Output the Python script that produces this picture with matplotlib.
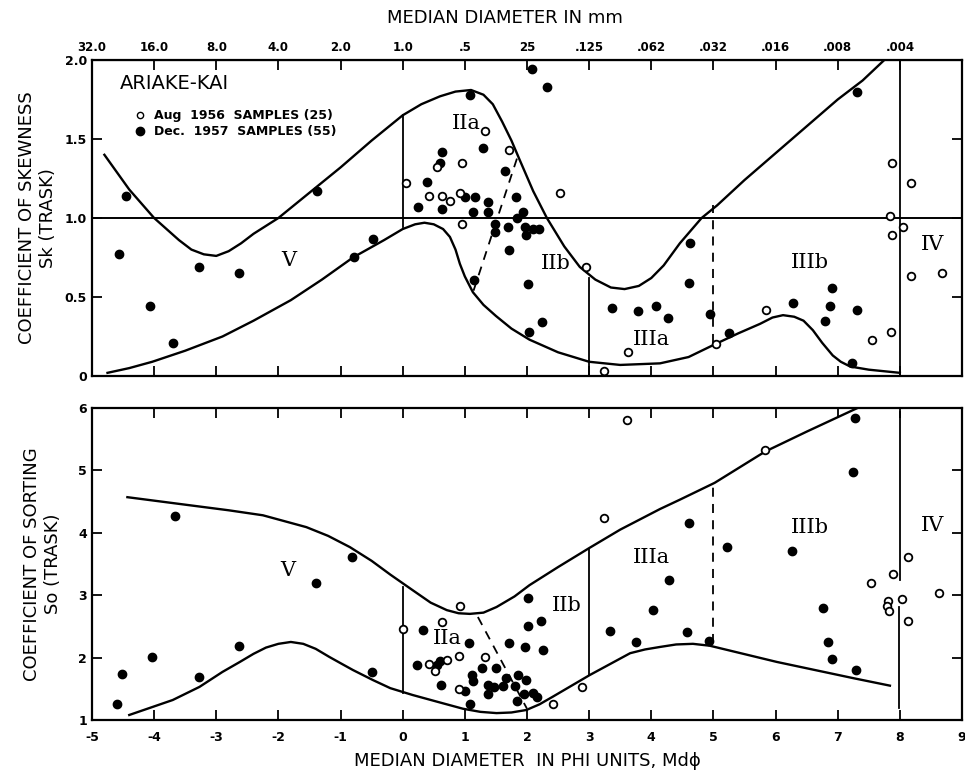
import matplotlib
matplotlib.use('Agg')
import matplotlib.pyplot as plt
from matplotlib.lines import Line2D

# ---- skewness panel (Sk) ----
sk_aug_phi = [1.32, 1.71, 0.95, 0.55, 0.05, 2.53, 0.43, 0.64, 0.76, 0.93, 0.95, 2.95, 3.62, 3.24,
              7.87, 8.18, 7.84, 8.05, 7.87, 8.18, 8.68, 5.85, 7.55, 7.86, 5.04]
sk_aug_val = [1.55, 1.43, 1.35, 1.32, 1.22, 1.16, 1.14, 1.14, 1.11, 1.16, 0.96, 0.69, 0.15, 0.03,
              1.35, 1.22, 1.01, 0.94, 0.89, 0.63, 0.65, 0.42, 0.23, 0.28, 0.20]
sk_dec_phi = [-4.46, -4.56, -4.06, -3.69, -3.28, -2.64, -1.38, -0.79, -0.47,
              2.08, 2.32, 1.08, 1.29, 0.64, 0.60, 1.64, 0.39, 1.82, 1.01, 1.16, 1.38, 0.24, 0.64,
              1.37, 1.13, 1.93, 1.84, 1.48, 1.69, 1.96, 2.09, 2.19, 1.48, 1.99, 1.71, 1.14, 2.01,
              2.24, 2.04, 3.37, 3.78, 4.07, 4.27,
              7.31, 4.62, 4.61, 4.94, 5.25, 6.28, 6.91, 6.88, 7.31, 6.80, 7.23]
sk_dec_val = [1.14, 0.77, 0.44, 0.21, 0.69, 0.65, 1.17, 0.75, 0.87,
              1.94, 1.83, 1.78, 1.44, 1.42, 1.35, 1.30, 1.23, 1.13, 1.13, 1.13, 1.10, 1.07, 1.06,
              1.04, 1.04, 1.04, 1.00, 0.96, 0.94, 0.94, 0.93, 0.93, 0.91, 0.89, 0.80, 0.61, 0.58,
              0.34, 0.28, 0.43, 0.41, 0.44, 0.37,
              1.80, 0.84, 0.59, 0.39, 0.27, 0.46, 0.56, 0.44, 0.42, 0.35, 0.08]

sk_upper_phi = [-4.8, -4.4, -4.0, -3.6, -3.4, -3.2, -3.0, -2.8, -2.6, -2.4, -2.0, -1.5, -1.0, -0.5,
                0.0, 0.3, 0.6, 0.85, 1.1, 1.3, 1.45, 1.6, 1.75, 1.88, 2.1, 2.32, 2.6, 2.85, 3.1,
                3.35, 3.57, 3.8, 4.0, 4.2, 4.46, 4.81, 5.06, 5.5, 6.0, 6.5, 7.0, 7.4, 7.75]
sk_upper_val = [1.40, 1.18, 1.00, 0.86, 0.80, 0.77, 0.76, 0.79, 0.84, 0.90, 1.00, 1.16, 1.32, 1.49,
                1.65, 1.72, 1.77, 1.80, 1.81, 1.78, 1.72, 1.61, 1.49, 1.37, 1.17, 1.00, 0.82, 0.69, 0.61,
                0.56, 0.55, 0.57, 0.62, 0.70, 0.84, 1.00, 1.08, 1.24, 1.41, 1.58, 1.75, 1.87, 2.00]
sk_lower_phi = [-4.75, -4.4, -4.03, -3.5, -2.9, -2.4, -1.8, -1.3, -0.8, -0.3, 0.0, 0.2, 0.35, 0.5,
                0.65, 0.76, 0.85, 0.92, 1.0, 1.13, 1.3, 1.5, 1.75, 2.04, 2.5, 3.0, 3.5, 4.14, 4.6,
                5.02, 5.4, 5.75, 5.95, 6.12, 6.3, 6.45, 6.6, 6.75, 6.92, 7.05, 7.2, 7.5, 8.0]
sk_lower_val = [0.02, 0.05, 0.09, 0.16, 0.25, 0.35, 0.48, 0.61, 0.75, 0.86, 0.93, 0.96, 0.97, 0.96,
                0.93, 0.88, 0.80, 0.71, 0.63, 0.53, 0.45, 0.38, 0.30, 0.23, 0.15, 0.09, 0.07, 0.08, 0.12,
                0.20, 0.27, 0.33, 0.37, 0.385, 0.375, 0.35, 0.29, 0.21, 0.13, 0.09, 0.06, 0.04, 0.02]

# ---- sorting panel (So) ----
so_aug_phi = [3.61, 3.24, 0.92, 0.63, 0.0, 0.90, 1.32, 0.42, 0.72, 0.52, 0.90, 2.88, 2.42,
              5.83, 8.13, 7.89, 7.54, 8.04, 8.63, 7.81, 7.79, 7.83, 8.13]
so_aug_val = [5.81, 4.24, 2.83, 2.57, 2.46, 2.03, 2.01, 1.90, 1.96, 1.79, 1.50, 1.53, 1.26,
              5.33, 3.61, 3.34, 3.20, 2.94, 3.04, 2.91, 2.83, 2.75, 2.59]
so_dec_phi = [-3.67, -0.81, -1.40, -2.64, -4.04, -4.51, -3.28, -0.50, -4.59,
              2.01, 2.22, 2.01, 0.32, 1.06, 1.71, 1.96, 2.25, 0.23, 0.60, 0.56, 1.27, 1.50, 1.11,
              1.13, 1.67, 1.85, 1.98, 1.37, 1.47, 1.61, 1.80, 0.61, 1.01, 1.37, 1.95, 2.09, 2.16,
              1.84, 1.08, 3.33, 3.75, 4.03, 4.28,
              7.28, 7.25, 4.61, 5.22, 6.26, 6.76, 4.57, 4.93, 6.84, 6.91, 7.29]
so_dec_val = [4.27, 3.61, 3.19, 2.19, 2.01, 1.74, 1.69, 1.77, 1.26,
              2.95, 2.59, 2.51, 2.44, 2.23, 2.23, 2.17, 2.12, 1.88, 1.95, 1.88, 1.83, 1.83, 1.72,
              1.63, 1.67, 1.72, 1.64, 1.56, 1.53, 1.54, 1.54, 1.56, 1.46, 1.41, 1.41, 1.43, 1.37,
              1.30, 1.26, 2.43, 2.25, 2.76, 3.24,
              5.84, 4.97, 4.16, 3.77, 3.71, 2.79, 2.41, 2.27, 2.25, 1.98, 1.80]

so_upper_phi = [-4.43, -3.5, -2.8, -2.25, -1.55, -1.2, -0.85, -0.5, -0.2, 0.16, 0.45, 0.71, 0.9,
                1.08, 1.3, 1.51, 1.8, 2.04, 2.5, 3.01, 3.5, 4.14, 4.46, 5.02, 5.83, 6.5, 7.32]
so_upper_val = [4.57, 4.45, 4.36, 4.28, 4.09, 3.95, 3.77, 3.55, 3.33, 3.08, 2.88, 2.76, 2.71,
                2.70, 2.72, 2.81, 2.98, 3.16, 3.45, 3.76, 4.05, 4.38, 4.53, 4.80, 5.30, 5.62, 6.00]
so_lower_phi = [-4.40, -3.7, -3.27, -2.9, -2.62, -2.4, -2.2, -2.0, -1.8, -1.6, -1.4, -1.18, -1.0,
                -0.8, -0.48, -0.2, 0.16, 0.6, 0.97, 1.25, 1.51, 1.75, 1.99, 2.2, 2.41, 3.01, 3.66,
                3.9, 4.14, 4.4, 4.67, 4.94, 6.02, 7.25, 7.84]
so_lower_val = [1.08, 1.32, 1.53, 1.77, 1.93, 2.06, 2.16, 2.22, 2.25, 2.22, 2.14, 2.01, 1.91,
                1.80, 1.64, 1.51, 1.40, 1.28, 1.18, 1.13, 1.11, 1.12, 1.16, 1.25, 1.37, 1.72, 2.07,
                2.13, 2.17, 2.21, 2.22, 2.19, 1.93, 1.67, 1.55]

phi_ticks = list(range(-5, 10))
mm_labels = ['32.0', '16.0', '8.0', '4.0', '2.0', '1.0', '.5', '25', '.125', '.062', '.032',
             '.016', '.008', '.004']

fig = plt.figure(figsize=(9.65, 7.83), dpi=100)
ax1 = fig.add_axes([0.0953, 0.5198, 0.9016, 0.4036])
ax2 = fig.add_axes([0.0953, 0.0805, 0.9016, 0.3985])

lw = 1.7
serif = 'DejaVu Serif'


def style_axis(ax, yticks, ylabels):
    ax.set_xlim(-5, 9)
    ax.set_xticks(phi_ticks)
    ax.set_yticks(yticks)
    ax.set_yticklabels(ylabels, fontsize=9, fontweight='bold')
    ax.tick_params(direction='in', length=7, width=1.3, top=True, right=True)
    for s in ax.spines.values():
        s.set_linewidth(1.6)


# top panel
ax1.plot(sk_upper_phi, sk_upper_val, color='black', lw=lw)
ax1.plot(sk_lower_phi, sk_lower_val, color='black', lw=lw)
ax1.axhline(1.0, color='black', lw=1.4)
ax1.plot([0, 0], [0.94, 1.65], color='black', lw=1.3)
ax1.plot([3, 3], [0.0, 0.62], color='black', lw=1.3)
ax1.plot([8, 8], [0.0, 2.0], color='black', lw=1.3)
ax1.plot([5, 5], [0.21, 1.08], color='black', lw=1.3, ls=(0, (5, 4)))
ax1.plot([1.14, 1.85], [0.54, 1.39], color='black', lw=1.3, ls=(0, (5, 4)))
ax1.plot(sk_dec_phi, sk_dec_val, 'o', color='black', ms=6, clip_on=False)
ax1.plot(sk_aug_phi, sk_aug_val, 'o', mfc='white', mec='black', mew=1.3, ms=5.5, clip_on=False)
ax1.set_ylim(0, 2.0)
style_axis(ax1, [0, 0.5, 1.0, 1.5, 2.0], ['0', '0.5', '1.0', '1.5', '2.0'])
ax1.tick_params(labelbottom=False)
ax1.set_ylabel('COEFFICIENT OF SKEWNESS\nSk (TRASK)', fontsize=13, labelpad=6)

top = ax1.secondary_xaxis('top')
top.set_xticks(phi_ticks[:-1])
top.set_xticklabels(mm_labels, fontsize=8.5, fontweight='bold')
top.tick_params(direction='in', length=7, width=1.3, pad=4)
ax1.tick_params(top=False)
fig.text(0.523, 0.977, 'MEDIAN DIAMETER IN mm', ha='center', va='center', fontsize=13)

ax1.text(-4.55, 1.85, 'ARIAKE-KAI', fontsize=14, va='center')
handles = [Line2D([], [], ls='none', marker='o', mfc='white', mec='black', mew=1.0, ms=4.5),
           Line2D([], [], ls='none', marker='o', color='black', ms=6)]
ax1.legend(handles, ['Aug  1956  SAMPLES (25)', 'Dec.  1957  SAMPLES (55)'], loc='upper left',
           bbox_to_anchor=(0.035, 0.88), frameon=False, prop={'size': 9, 'weight': 'bold'},
           handletextpad=0.6, labelspacing=0.25, handlelength=1.0)

for txt, x, y in [('V', -1.84, 0.73), ('IIa', 1.03, 1.6), ('IIb', 2.46, 0.71), ('IIIa', 4.0, 0.23),
                  ('IIIb', 6.55, 0.72), ('IV', 8.53, 0.83)]:
    ax1.text(x, y, txt, ha='center', va='center', fontsize=15, family=serif)

# bottom panel
ax2.plot(so_upper_phi, so_upper_val, color='black', lw=lw)
ax2.plot(so_lower_phi, so_lower_val, color='black', lw=lw)
ax2.plot([0, 0], [1.43, 3.13], color='black', lw=1.3)
ax2.plot([3, 3], [1.72, 3.74], color='black', lw=1.3)
ax2.plot([5, 5], [2.23, 4.80], color='black', lw=1.3, ls=(0, (5, 4)))
ax2.plot([8, 8], [3.24, 5.94], color='black', lw=1.3)
ax2.plot([7.98, 7.98], [1.19, 2.81], color='black', lw=1.3)
ax2.plot([1.21, 2.0], [2.65, 1.18], color='black', lw=1.3, ls=(0, (5, 4)))
ax2.plot(so_dec_phi, so_dec_val, 'o', color='black', ms=6, clip_on=False)
ax2.plot(so_aug_phi, so_aug_val, 'o', mfc='white', mec='black', mew=1.3, ms=5.5, clip_on=False)
ax2.set_ylim(1, 6)
style_axis(ax2, [1, 2, 3, 4, 5, 6], ['1', '2', '3', '4', '5', '6'])
ax2.set_xticklabels([str(t) for t in phi_ticks], fontsize=9, fontweight='bold')
ax2.tick_params(axis='x', pad=8)
ax2.set_ylabel('COEFFICIENT OF SORTING\nSo (TRASK)', fontsize=13, labelpad=12)
ax2.set_xlabel('MEDIAN DIAMETER  IN PHI UNITS, Md\u03d5', fontsize=13, labelpad=6)

for txt, x, y in [('V', -1.85, 3.40), ('IIa', 0.71, 2.31), ('IIb', 2.64, 2.83), ('IIIa', 4.0, 3.60),
                  ('IIIb', 6.55, 4.09), ('IV', 8.52, 4.12)]:
    ax2.text(x, y, txt, ha='center', va='center', fontsize=15, family=serif)

fig.savefig('out.png', dpi=100)
